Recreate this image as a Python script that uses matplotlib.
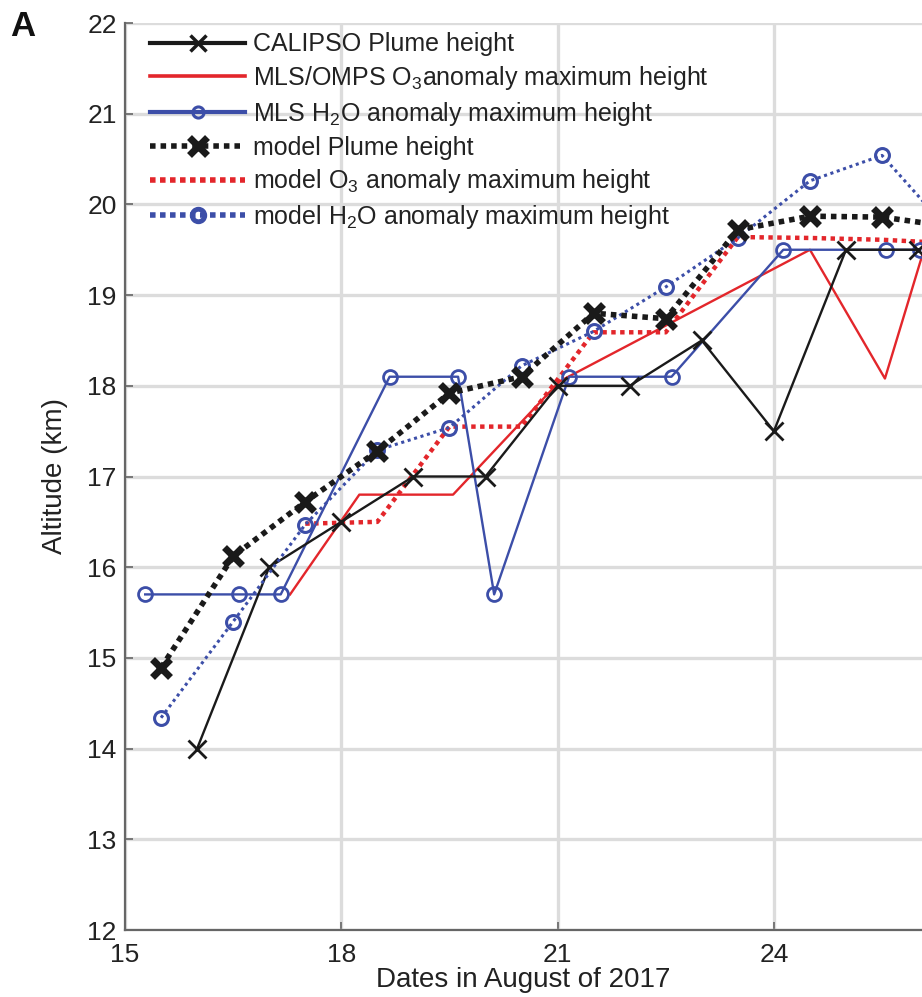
import matplotlib
matplotlib.use("Agg")
import matplotlib.pyplot as plt
from matplotlib import font_manager
from matplotlib.lines import Line2D

# ---------------- data ----------------
calipso_x = [16, 17, 18, 19, 20, 21, 22, 23, 24, 25, 26]
calipso_y = [14.0, 16.0, 16.5, 17.0, 17.0, 18.0, 18.0, 18.5, 17.5, 19.5, 19.5]

mls_o3_x = [17.29, 18.25, 19.55, 21.03, 24.5, 25.54, 26.1]
mls_o3_y = [15.7, 16.8, 16.8, 18.05, 19.5, 18.08, 19.55]

mls_h2o_x = [15.28, 16.58, 17.16, 18.67, 19.62, 20.12, 21.16, 22.58, 24.13, 25.55, 26.03]
mls_h2o_y = [15.7, 15.7, 15.7, 18.1, 18.1, 15.7, 18.1, 18.1, 19.5, 19.5, 19.5]

model_plume_x = [15.5, 16.5, 17.5, 18.5, 19.5, 20.5, 21.5, 22.5, 23.5, 24.5, 25.5, 26.5]
model_plume_y = [14.89, 16.12, 16.72, 17.28, 17.92, 18.1, 18.8, 18.74, 19.72, 19.87, 19.86, 19.75]

model_o3_x = [17.5, 18.5, 19.5, 20.5, 21.5, 22.5, 23.5, 24.5, 25.5, 26.5]
model_o3_y = [16.48, 16.5, 17.55, 17.55, 18.59, 18.59, 19.64, 19.63, 19.61, 19.57]

model_h2o_x = [15.5, 16.5, 17.5, 18.5, 19.5, 20.5, 21.5, 22.5, 23.5, 24.5, 25.5, 26.5]
model_h2o_y = [14.34, 15.4, 16.47, 17.29, 17.54, 18.22, 18.6, 19.09, 19.63, 20.26, 20.54, 19.65]

x_ticks = [15, 18, 21, 24]
y_ticks = list(range(12, 23))

labels = [
    "CALIPSO Plume height",
    r"MLS/OMPS O$_\mathregular{3}$anomaly maximum height",
    r"MLS H$_\mathregular{2}$O anomaly maximum height",
    "model Plume height",
    r"model O$_\mathregular{3}$ anomaly maximum height",
    r"model H$_\mathregular{2}$O anomaly maximum height",
]

# ---------------- style ----------------
names = {f.name for f in font_manager.fontManager.ttflist}
base = "Liberation Sans" if "Liberation Sans" in names else "DejaVu Sans"

plt.rcParams["font.family"] = [base, "DejaVu Sans"]
plt.rcParams["mathtext.fontset"] = "custom"
plt.rcParams["mathtext.rm"] = base
plt.rcParams["mathtext.it"] = base + ":italic"
plt.rcParams["mathtext.bf"] = base + ":bold"

BLACK = "#1a1a1a"
RED = "#e3262b"
BLUE = "#3c4ea8"
GRID = "#dcdcdc"
SPINE = "#666666"
TXT = "#222222"

W, H = 922, 997
fig = plt.figure(figsize=(W / 100, H / 100), dpi=100)
ax = fig.add_axes([125 / W, 1 - 930 / H, (W - 125) / W, (930 - 23) / H])

ax.plot(calipso_x, calipso_y, color=BLACK, lw=1.7, marker="x", ms=13,
        mew=2.0, zorder=5)
ax.plot(mls_o3_x, mls_o3_y, color=RED, lw=1.7, zorder=4)
ax.plot(mls_h2o_x, mls_h2o_y, color=BLUE, lw=1.7, marker="o", ms=10,
        mfc="none", mew=2.0, zorder=4)
ax.plot(model_plume_x, model_plume_y, color=BLACK, lw=4.0, dashes=(1.0, 0.9),
        marker="x", ms=13, mew=5.0, zorder=6)
ax.plot(model_o3_x, model_o3_y, color=RED, lw=3.2, dashes=(1.0, 1.0), zorder=3)
ax.plot(model_h2o_x, model_h2o_y, color=BLUE, lw=2.2, dashes=(1.0, 1.2),
        marker="o", ms=10, mfc="none", mew=2.2, zorder=5)

ax.set_xlim(15, 15 + (W - 125) / 72.1)
ax.set_ylim(12, 22)
ax.set_xticks(x_ticks)
ax.set_yticks(y_ticks)
ax.grid(True, color=GRID, lw=2.4, zorder=0)
ax.set_axisbelow(True)
for s in ("top", "right"):
    ax.spines[s].set_visible(False)
for s in ("left", "bottom"):
    ax.spines[s].set_color(SPINE)
    ax.spines[s].set_linewidth(1.6)
ax.tick_params(direction="in", length=6, width=1.2, color=SPINE,
               labelsize=19, labelcolor=TXT)
ax.tick_params(axis="y", pad=6)
ax.tick_params(axis="x", pad=9)

ax.set_xlabel("Dates in August of 2017", fontsize=20, color=TXT, labelpad=0)
ax.set_ylabel("Altitude (km)", fontsize=20, color=TXT, labelpad=14)

fig.text(23 / W, 1 - 26 / H, "A", fontsize=25, fontweight="bold",
         ha="center", va="center", color="#111111")

# legend with thicker handles like the original
handles = [
    Line2D([], [], color=BLACK, lw=3.0, marker="x", ms=12, mew=2.5),
    Line2D([], [], color=RED, lw=2.6),
    Line2D([], [], color=BLUE, lw=3.0, marker="o", ms=8, mfc="none", mew=2.2),
    Line2D([], [], color=BLACK, lw=4.0, dashes=(1.0, 0.9), marker="x", ms=13, mew=5.0),
    Line2D([], [], color=RED, lw=4.0, dashes=(1.0, 0.8)),
    Line2D([], [], color=BLUE, lw=4.0, dashes=(1.0, 0.8), marker="o", ms=9, mfc="none", mew=3.5),
]
leg = ax.legend(handles, labels, loc="upper left", bbox_to_anchor=(0.01, 1.009),
                frameon=False, fontsize=18, handlelength=3.8, handletextpad=0.3,
                labelspacing=0.31, borderpad=0.2, numpoints=1)
for t in leg.get_texts():
    t.set_color(TXT)

fig.savefig("out.png", dpi=100)
